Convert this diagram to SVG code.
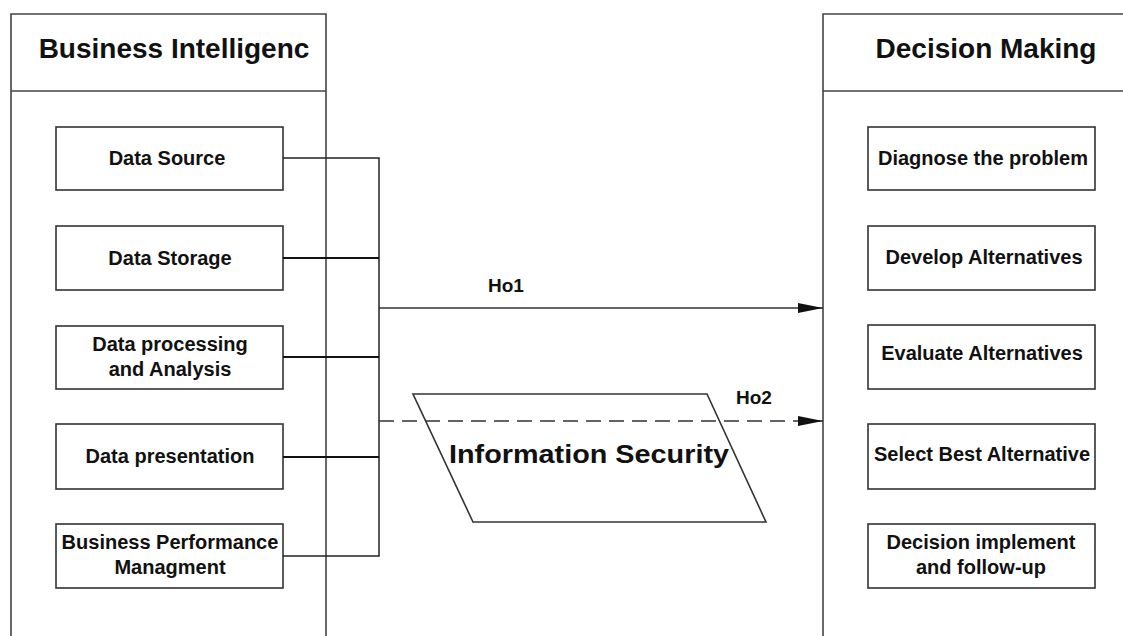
<svg xmlns="http://www.w3.org/2000/svg" width="1123" height="636" viewBox="0 0 1123 636">
  <style>
    text { font-family: "Liberation Sans", Arial, sans-serif; font-weight: bold; fill: #111; text-anchor: middle; }
    .frame { fill: none; stroke: #444; stroke-width: 1.6; }
    .box { fill: #fff; stroke: #333; stroke-width: 1.6; }
    .title { font-size: 28px; }
    .label { font-size: 20px; }
    .hyp { font-size: 19px; }
    .wire { fill: none; stroke: #222; stroke-width: 1.5; }
    .wire.heavy { stroke: #111; stroke-width: 2.2; }
    .arrow { fill: none; stroke: #333; stroke-width: 1.5; }
    .dashed { stroke-dasharray: 15 8; }
  </style>
  <defs>
    <marker id="head" markerUnits="userSpaceOnUse" markerWidth="26" markerHeight="11" refX="25" refY="5" orient="auto">
      <path d="M0,0 L25,5 L0,10 Z" fill="#111"/>
    </marker>
  </defs>

  <rect width="1123" height="636" fill="#fff"/>

  <!-- Business Intelligence container -->
  <g id="bi-container">
    <path class="frame" d="M11,640 L11,14 L326,14 L326,640"/>
    <line class="frame" x1="11" y1="91" x2="326" y2="91"/>
    <text class="title" x="174" y="58">Business Intelligenc</text>
  </g>

  <!-- Decision Making container -->
  <g id="dm-container">
    <path class="frame" d="M823,640 L823,14 L1130,14"/>
    <line class="frame" x1="823" y1="91" x2="1130" y2="91"/>
    <text class="title" x="986" y="58">Decision Making</text>
  </g>

  <!-- BI components -->
  <g id="data-source">
    <rect class="box" x="56" y="127" width="227" height="63"/>
    <text class="label" x="167" y="165">Data Source</text>
  </g>
  <g id="data-storage">
    <rect class="box" x="56" y="226" width="227" height="64"/>
    <text class="label" x="170" y="265">Data Storage</text>
  </g>
  <g id="data-processing">
    <rect class="box" x="56" y="326" width="227" height="63"/>
    <text class="label" x="170" y="351">Data processing</text>
    <text class="label" x="170" y="376">and Analysis</text>
  </g>
  <g id="data-presentation">
    <rect class="box" x="56" y="424" width="227" height="65"/>
    <text class="label" x="170" y="463">Data presentation</text>
  </g>
  <g id="business-performance">
    <rect class="box" x="56" y="524" width="227" height="64"/>
    <text class="label" x="170" y="549">Business Performance</text>
    <text class="label" x="170" y="574">Managment</text>
  </g>

  <!-- Decision steps -->
  <g id="diagnose">
    <rect class="box" x="868" y="127" width="227" height="63"/>
    <text class="label" x="983" y="165">Diagnose the problem</text>
  </g>
  <g id="develop">
    <rect class="box" x="868" y="226" width="227" height="64"/>
    <text class="label" x="984" y="264">Develop Alternatives</text>
  </g>
  <g id="evaluate">
    <rect class="box" x="868" y="325" width="227" height="64"/>
    <text class="label" x="982" y="360">Evaluate Alternatives</text>
  </g>
  <g id="select">
    <rect class="box" x="868" y="424" width="227" height="65"/>
    <text class="label" x="982" y="461">Select Best Alternative</text>
  </g>
  <g id="implement">
    <rect class="box" x="868" y="524" width="227" height="64"/>
    <text class="label" x="981" y="549">Decision implement</text>
    <text class="label" x="981" y="574">and follow-up</text>
  </g>

  <!-- Information Security moderator -->
  <g id="information-security">
    <polygon class="box" points="413,394 707,394 766,522 473,522"/>
    <text x="589" y="463" style="font-size:26px" textLength="280" lengthAdjust="spacingAndGlyphs">Information Security</text>
  </g>

  <!-- Connectors -->
  <g id="connectors">
    <path class="wire" d="M283,158 L379,158 L379,556 L283,556"/>
    <line class="wire heavy" x1="283" y1="258" x2="379" y2="258"/>
    <line class="wire heavy" x1="283" y1="357" x2="379" y2="357"/>
    <line class="wire heavy" x1="283" y1="457" x2="379" y2="457"/>
    <line class="arrow" x1="379" y1="308" x2="823" y2="308" marker-end="url(#head)"/>
    <line class="arrow dashed" x1="379" y1="421" x2="823" y2="421" marker-end="url(#head)"/>
    <text class="hyp" x="506" y="292">Ho1</text>
    <text class="hyp" x="754" y="404">Ho2</text>
  </g>
</svg>
